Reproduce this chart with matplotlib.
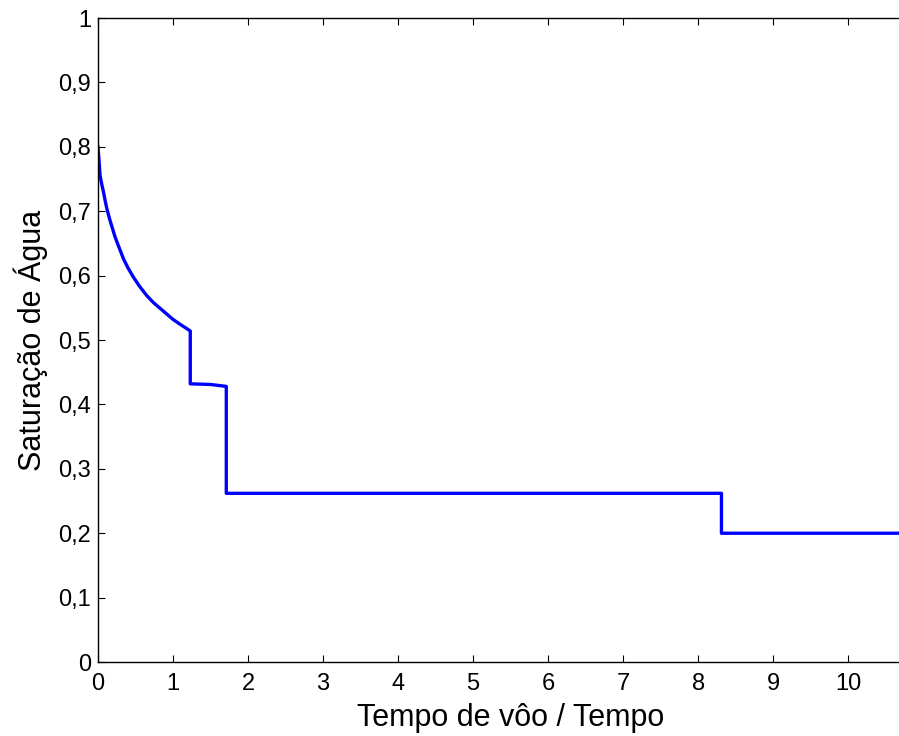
import matplotlib.pyplot as plt
from matplotlib.ticker import FuncFormatter

# saturacao de agua ao longo do tempo adimensional
tempo = [0.0, 0.013, 0.027, 0.05, 0.071, 0.093, 0.116, 0.15, 0.183, 0.225,
         0.27, 0.34, 0.40, 0.47, 0.55, 0.65, 0.74, 0.83, 0.92, 1.0, 1.1,
         1.18, 1.23, 1.23, 1.50, 1.71, 1.71, 8.31, 8.31, 11.0]
saturacao = [0.80, 0.780, 0.756, 0.742, 0.731, 0.718, 0.705, 0.690, 0.677,
             0.661, 0.647, 0.626, 0.612, 0.598, 0.584, 0.569, 0.558, 0.549,
             0.540, 0.532, 0.524, 0.518, 0.514, 0.432, 0.431, 0.428, 0.262,
             0.262, 0.20, 0.20]

xticks = list(range(0, 11))
yticks = [i / 10 for i in range(0, 11)]


def virgula(v, pos):
    if v == 0 or v == 1:
        return f'{v:.0f}'
    return f'{v:.1f}'.replace('.', ',')


plt.rcParams['font.family'] = ['Liberation Sans', 'DejaVu Sans']

fig = plt.figure(figsize=(8.99, 7.36), dpi=100)
ax = fig.add_axes([0.109, 0.1005, 0.918, 0.875])

ax.plot(tempo, saturacao, color='#0000ff', linewidth=2.4)

ax.set_xlim(0, 11)
ax.set_ylim(0, 1)
ax.set_xticks(xticks)
ax.set_yticks(yticks)
ax.yaxis.set_major_formatter(FuncFormatter(virgula))
ax.tick_params(direction='in', length=5, width=0.8, labelsize=17, pad=5,
               top=True, right=True)
ax.tick_params(axis='x', pad=8)
for s in ax.spines.values():
    s.set_linewidth(1.0)

ax.set_xlabel('Tempo de vôo / Tempo', fontsize=22, labelpad=6)
ax.set_ylabel('Saturação de Água', fontsize=22, labelpad=7)

plt.savefig('out.png', dpi=100)
